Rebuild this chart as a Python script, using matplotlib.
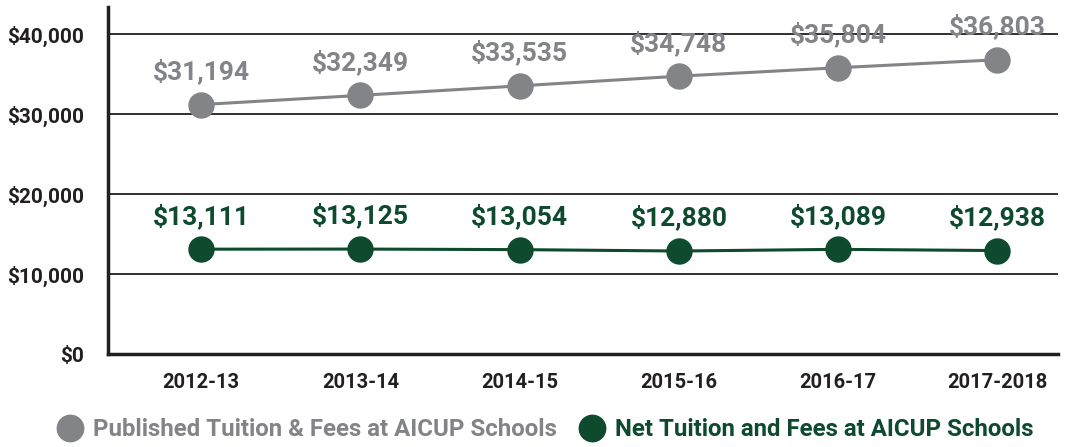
import matplotlib
matplotlib.use("Agg")
import matplotlib.pyplot as plt
from matplotlib.lines import Line2D

plt.rcParams['font.family'] = ['Roboto', 'DejaVu Sans']

years = ["2012-13", "2013-14", "2014-15", "2015-16", "2016-17", "2017-2018"]
published = [31194, 32349, 33535, 34748, 35804, 36803]
net = [13111, 13125, 13054, 12880, 13089, 12938]
yticks = [0, 10000, 20000, 30000, 40000]
ytick_labels = ["$0", "$10,000", "$20,000", "$30,000", "$40,000"]
series_names = ["Published Tuition & Fees at AICUP Schools", "Net Tuition and Fees at AICUP Schools"]

GRAY = "#838488"
GREEN = "#0d4a2e"
DARK = "#231f20"

fig = plt.figure(figsize=(10.66, 4.47), dpi=100)
ax = fig.add_axes([108/1066, 1-354/447, (1058-108)/1066, (354-7)/447])

x = list(range(len(years)))
for vals, col in [(published, GRAY), (net, GREEN)]:
    ax.plot(x, vals, color=col, lw=2.2, marker='o', ms=18, zorder=3)
    for xi, v in zip(x, vals):
        ax.annotate(f"${v:,}", (xi, v), xytext=(0, 24), textcoords='offset points',
                    ha='center', va='center', fontsize=19, fontweight='bold', color=col, zorder=4)

ax.set_xlim(-0.585, 5.38)
ax.set_ylim(0, 43400)
for yv in yticks[1:]:
    ax.axhline(yv, color=DARK, lw=1.3, zorder=1)
ax.set_yticks(yticks)
ax.set_yticklabels(ytick_labels)
ax.set_xticks(x)
ax.set_xticklabels(years)
ax.tick_params(axis='both', length=0, labelcolor=DARK)
ax.tick_params(axis='y', pad=17, labelsize=15)
ax.tick_params(axis='x', pad=14, labelsize=14.5)
for lab in ax.get_xticklabels() + ax.get_yticklabels():
    lab.set_fontweight('bold')
for s in ['top', 'right']:
    ax.spines[s].set_visible(False)
for s in ['left', 'bottom']:
    ax.spines[s].set_linewidth(2.5)
    ax.spines[s].set_color(DARK)

handles = [Line2D([], [], ls='none', marker='o', ms=19, color=c) for c in (GRAY, GREEN)]
leg = fig.legend(handles, series_names, loc='center', bbox_to_anchor=(545/1066, 1-430/447),
                 ncol=2, frameon=False, handletextpad=0.4, columnspacing=0.9, handlelength=1.1,
                 prop={'size': 17.3, 'weight': 'bold'}, labelcolor=[GRAY, GREEN])

fig.savefig("out.png", dpi=100)
